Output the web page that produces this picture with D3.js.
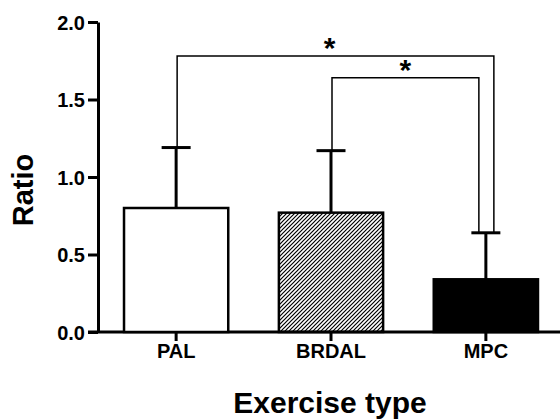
<!DOCTYPE html>
<html>
<head>
<meta charset="utf-8">
<script src="https://cdn.jsdelivr.net/npm/d3@7"></script>
<style>
  body { margin: 0; background: white; }
  text { font-family: "Liberation Sans", Arial, sans-serif; font-weight: bold; fill: black; }
</style>
</head>
<body>
<div id="chart-container"></div>
<script>
'use strict'

var categories = ['PAL', 'BRDAL', 'MPC']
var means = [0.80, 0.77, 0.34]
var errors = [0.39, 0.40, 0.30]
var fills = ['white', 'url(#hatch)', 'black']
var yTicks = [0.0, 0.5, 1.0, 1.5, 2.0]

// significance brackets: from, to, height (ratio), label
var compFrom = ['PAL', 'BRDAL']
var compTo = ['MPC', 'MPC']
var compLevel = [1.78, 1.64]
var compLabel = ['*', '*']

var drawChart = function() {
    let width = 560
    let height = 419
    let margins = { top: 22, left: 98, bottom: 87 }

    let svg = d3.select('#chart-container')
        .append('svg').attr('class', 'chart')
            .attr('width', width)
            .attr('height', height)

    // hatch pattern for BRDAL
    svg.append('defs').append('pattern')
        .attr('id', 'hatch')
        .attr('patternUnits', 'userSpaceOnUse')
        .attr('width', 4)
        .attr('height', 4)
        .append('path')
            .attr('d', 'M-1,1 l2,-2 M0,4 l4,-4 M3,5 l2,-2')
            .attr('stroke', 'black')
            .attr('stroke-width', 1.2)

    let x = d3.scaleBand()
        .domain(categories)
        .range([margins.left, 564])
        .paddingInner(0.327)
        .paddingOuter(0.168)

    let y = d3.scaleLinear()
        .domain([0, 2])
        .range([height - margins.bottom, margins.top])

    let cx = c => x(c) + x.bandwidth() / 2

    // y axis
    let yAxis = d3.axisLeft(y)
        .tickValues(yTicks)
        .tickFormat(d3.format('.1f'))
        .tickSize(10)
        .tickSizeOuter(0)
        .tickPadding(3)

    let gy = svg.append('g')
        .attr('class', 'y axis')
        .attr('transform', 'translate(' + margins.left + ',0)')
        .call(yAxis)
    gy.selectAll('path, line').attr('stroke', 'black').attr('stroke-width', 3)
    gy.selectAll('text').style('font-size', '20px').attr('dy', '0.36em')

    // x axis
    let xAxis = d3.axisBottom(x)
        .tickSize(9)
        .tickSizeOuter(0)
        .tickPadding(3)

    let gx = svg.append('g')
        .attr('class', 'x axis')
        .attr('transform', 'translate(0,' + y(0) + ')')
        .call(xAxis)
    gx.select('.domain').attr('d', 'M88,0H560')
    gx.selectAll('path, line').attr('stroke', 'black').attr('stroke-width', 3)
    gx.selectAll('text').style('font-size', '20px')

    let data = categories.map((c, i) => ({ cat: c, mean: means[i], err: errors[i], fill: fills[i] }))

    // error bars (upper only)
    svg.selectAll('.err').data(data)
        .enter().append('line')
        .attr('class', 'err')
        .attr('x1', d => cx(d.cat))
        .attr('x2', d => cx(d.cat))
        .attr('y1', d => y(d.mean))
        .attr('y2', d => y(d.mean + d.err))
        .attr('stroke', 'black')
        .attr('stroke-width', 3)

    svg.selectAll('.cap').data(data)
        .enter().append('line')
        .attr('class', 'cap')
        .attr('x1', d => cx(d.cat) - 14.5)
        .attr('x2', d => cx(d.cat) + 14.5)
        .attr('y1', d => y(d.mean + d.err))
        .attr('y2', d => y(d.mean + d.err))
        .attr('stroke', 'black')
        .attr('stroke-width', 3)

    // bars
    svg.selectAll('.bar').data(data)
        .enter().append('rect')
        .attr('class', 'bar')
        .attr('x', d => x(d.cat))
        .attr('y', d => y(d.mean))
        .attr('width', x.bandwidth())
        .attr('height', d => y(0) - y(d.mean))
        .attr('fill', d => d.fill)
        .attr('stroke', 'black')
        .attr('stroke-width', 2.5)

    // significance brackets
    let legOffset = [8, -7]
    let capOf = c => {
        let i = categories.indexOf(c)
        return means[i] + errors[i]
    }
    compFrom.forEach((from, i) => {
        let x1 = cx(from) + 1
        let x2 = cx(compTo[i]) + legOffset[i]
        let yl = y(compLevel[i])
        svg.append('path')
            .attr('d', 'M' + x1 + ',' + y(capOf(from)) + 'V' + yl + 'H' + x2 + 'V' + y(capOf(compTo[i])))
            .attr('fill', 'none')
            .attr('stroke', 'black')
            .attr('stroke-width', 1.5)
        svg.append('text')
            .attr('x', (x1 + x2) / 2 - (i == 0 ? 6 : 0))
            .attr('y', yl + 2)
            .style('text-anchor', 'middle')
            .style('font-size', '30px')
            .text(compLabel[i])
    })

    // axis titles
    svg.append('text')
        .attr('x', 330)
        .attr('y', 413)
        .style('text-anchor', 'middle')
        .style('font-size', '30px')
        .text('Exercise type')

    svg.append('text')
        .attr('transform', 'translate(33,' + 190 + ') rotate(-90)')
        .style('text-anchor', 'middle')
        .style('font-size', '29px')
        .text('Ratio')
}

window.onload = function() {
    drawChart()
}
</script>
</body>
</html>
